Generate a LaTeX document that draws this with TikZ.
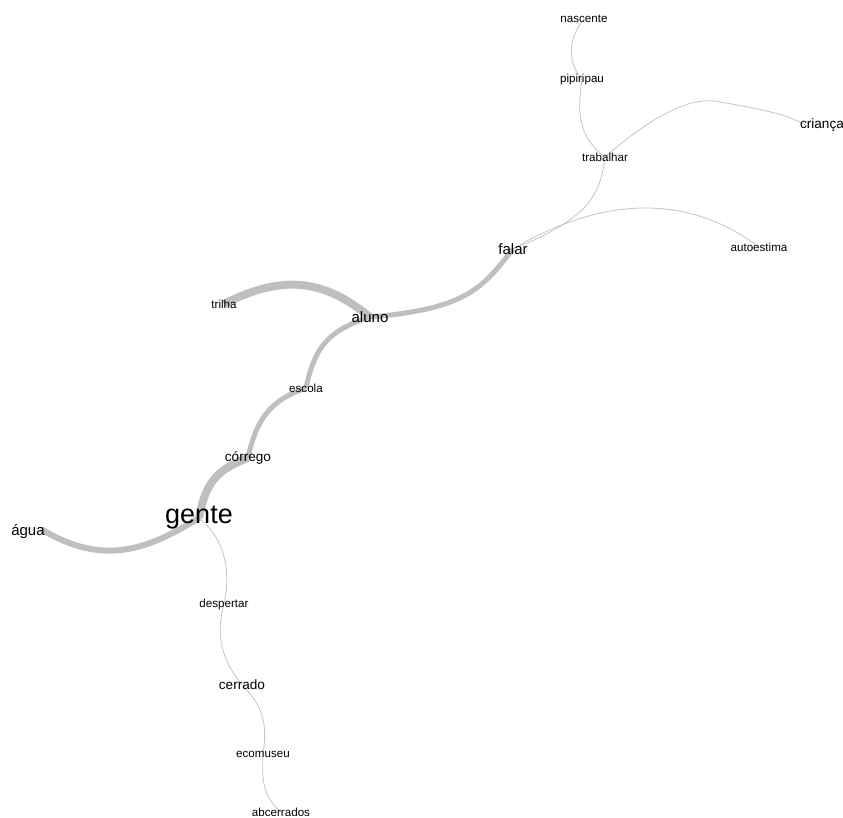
\documentclass[tikz,border=0pt]{standalone}
\usepackage{fontspec}
\setmainfont{Liberation Sans}
\usetikzlibrary{backgrounds}
\definecolor{edgegray}{RGB}{190,192,192}
\definecolor{thingray}{RGB}{196,196,196}
\tikzset{
  word/.style={inner sep=0pt, text=black, font=\fontsize{11.6}{12}\selectfont},
  midword/.style={word, font=\fontsize{13.6}{14}\selectfont},
  bigword/.style={word, font=\fontsize{15}{16}\selectfont},
  hugeword/.style={word, font=\fontsize{27}{28}\selectfont},
  link/.style={draw=thingray, line width=0.8pt},
  band/.style={draw=edgegray, line width=#1},
}
\begin{document}
\begin{tikzpicture}[x=1pt,y=-1pt]
\useasboundingbox (0,0) rectangle (843,818);

% words
\node[word]     (nascente)   at (584,19)  {nascente};
\node[word]     (pipiripau)  at (582,80)  {pipiripau};
\node[word]     (trabalhar)  at (605,157) {trabalhar};
\node[midword]  (crianca)    at (822,125) {criança};
\node[bigword]  (falar)      at (513,249) {falar};
\node[word]     (autoestima) at (759,247) {autoestima};
\node[word]     (trilha)     at (224,304) {trilha};
\node[bigword]  (aluno)      at (370,317) {aluno};
\node[word]     (escola)     at (306,388) {escola};
\node[midword]  (corrego)    at (248,458) {córrego};
\node[hugeword] (gente)      at (199,518) {gente};
\node[bigword]  (agua)       at (28,532)  {água};
\node[word]     (despertar)  at (224,604) {despertar};
\node[midword]  (cerrado)    at (242,685) {cerrado};
\node[word]     (ecomuseu)   at (263,754) {ecomuseu};
\node[word]     (abcerrados) at (281,812) {abcerrados};

\begin{scope}[on background layer]
  % strong co-occurrences
  \draw[band=8pt] (aluno.center) .. controls (330,285) and (290,270) .. (trilha.center);
  \draw[band=5pt] (falar.center) .. controls (483,287) and (468,309) .. (aluno.center);
  \draw[band=5pt] (aluno.center) .. controls (330,330) and (315,345) .. (escola.center);
  \draw[band=5pt] (escola.center) .. controls (270,400) and (256,420) .. (corrego.center);
  \draw[band=8pt] (corrego.center) .. controls (215,470) and (205,485) .. (gente.center);
  \draw[band=6pt] (gente.center) .. controls (150,548) and (105,568) .. ([xshift=-4pt,yshift=3pt]agua.east);
  % weak co-occurrences
  \draw[link] (nascente.center) .. controls (568,38) and (567,62) .. (pipiripau.center);
  \draw[link] (pipiripau.center) .. controls (577,112) and (578,137) .. (trabalhar.center);
  \draw[link] (trabalhar.center) .. controls (650,118) and (690,95) .. (720,102)
              .. controls (760,109) and (790,114) .. ([xshift=10pt,yshift=-3pt]crianca.west);
  \draw[link] (trabalhar.center) .. controls (600,195) and (590,218) .. (falar.center);
  \draw[link] (falar.center) .. controls (575,212) and (670,180) .. (autoestima.center);
  \draw[link] (gente.center) .. controls (226,540) and (231,572) .. (despertar.center);
  \draw[link] (despertar.center) .. controls (217,630) and (218,655) .. (cerrado.center);
  \draw[link] (cerrado.center) .. controls (262,705) and (268,722) .. (ecomuseu.center);
  \draw[link] (ecomuseu.center) .. controls (262,780) and (262,795) .. (abcerrados.center);
\end{scope}
\end{tikzpicture}
\end{document}
